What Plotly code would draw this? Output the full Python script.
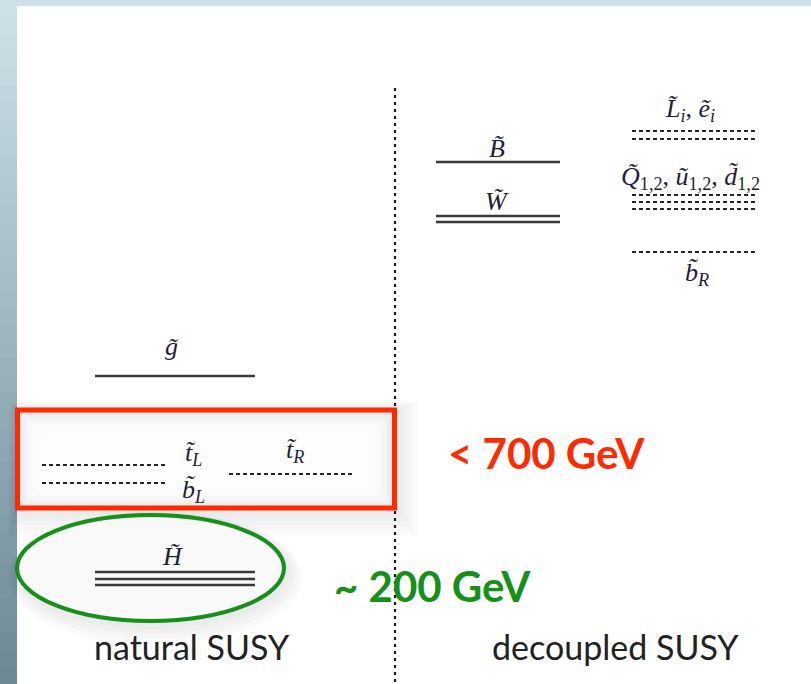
import plotly.graph_objects as go

# ---- diagram values (mass levels, in diagram units: larger = lower on page) ----
natural_labels = ["<i>g\u0303</i>",
                  "<i>t\u0303</i><sub><i>L</i></sub>",
                  "<i>b\u0303</i><sub><i>L</i></sub>",
                  "<i>t\u0303</i><sub><i>R</i></sub>",
                  "<i>H\u0303</i>"]
natural_levels = [[376], [465], [483], [474], [572, 579, 585]]
natural_dotted = [False, True, True, True, False]

decoupled_labels = ["<i>B\u0303</i>",
                    "<i>W\u0303</i>",
                    "<i>L\u0303</i><sub><i>i</i></sub>, <i>\u1ebd</i><sub><i>i</i></sub>",
                    "<i>Q\u0303</i><sub>1,2</sub>, <i>\u0169</i><sub>1,2</sub>, <i>d\u0303</i><sub>1,2</sub>",
                    "<i>b\u0303</i><sub><i>R</i></sub>"]
decoupled_levels = [[162], [216, 222], [131, 139], [195, 202, 209], [252]]
decoupled_dotted = [False, False, True, True, True]

column_titles = ["natural SUSY", "decoupled SUSY"]
mass_notes = ["&lt; 700 GeV", "~ 200 GeV"]

# ---- layout constants ----
W, H = 811, 684
spans = {  # x extent of each level line
    "natural": [(95, 255), (42, 168), (42, 168), (229, 355), (95, 255)],
    "decoupled": [(436, 560), (436, 560), (632, 758), (632, 758), (632, 758)],
}
label_pos = {  # (x, y) of each level label
    "natural": [(172, 346), (193, 454), (193, 491), (295, 451), (172, 556)],
    "decoupled": [(497, 148), (497, 201), (690, 110), (690, 178), (697, 274)],
}
LABEL_FONT = dict(family="Liberation Serif", size=26, color="#1d1d3c")
SANS = "Lato"

fig = go.Figure()
shapes = []

# slide frame: left and top strips with a vertical gradient
n_band = 40
for i in range(n_band):
    t = i / (n_band - 1)
    r = int(205 - t * (205 - 108))
    g = int(225 - t * (225 - 138))
    b = int(232 - t * (232 - 150))
    y0 = H * i / n_band
    shapes.append(dict(type="rect", xref="x", yref="y", x0=0, x1=17,
                       y0=y0, y1=y0 + H / n_band + 1, line_width=0,
                       fillcolor=f"rgb({r},{g},{b})", layer="below"))
shapes.append(dict(type="rect", xref="x", yref="y", x0=17, x1=W, y0=0, y1=6,
                   line_width=0, fillcolor="#cde1e9", layer="below"))

# soft shadow around the red box
for k in range(6):
    d = 3 + 5 * k
    shapes.append(dict(type="rect", xref="x", yref="y",
                       x0=17 - d * 0.3, x1=395 + d * 0.8, y0=410 - d * 0.3, y1=508 + d,
                       line_width=0, fillcolor="rgba(0,0,0,0.014)", layer="below"))
# shadow around the green ellipse
for k in range(5):
    d = 3 + 5 * k
    shapes.append(dict(type="circle", xref="x", yref="y",
                       x0=17 - d * 0.4, x1=284 + d * 0.8, y0=515 - d * 0.2, y1=621 + d,
                       line_width=0, fillcolor="rgba(0,0,0,0.018)", layer="below"))
shapes.append(dict(type="circle", xref="x", yref="y", x0=19, x1=282, y0=517, y1=619,
                   line_width=0, fillcolor="rgba(255,255,255,0.8)", layer="below"))

# box interior: grey vignette fading to white in the middle
shapes.append(dict(type="rect", xref="x", yref="y", x0=17, x1=395, y0=410, y1=508,
                   line_width=0, fillcolor="#e2e2e2", layer="below"))
for k in range(1, 9):
    d = 3 * k
    shapes.append(dict(type="rect", xref="x", yref="y",
                       x0=17 + d, x1=395 - d, y0=410 + d, y1=508 - d * 0.8,
                       line_width=0, fillcolor="rgba(255,255,255,0.3)", layer="below"))

# red box and green ellipse outlines
shapes.append(dict(type="rect", xref="x", yref="y", x0=17.5, x1=394.5, y0=410, y1=508,
                   line=dict(color="#ff2a00", width=5), fillcolor="rgba(0,0,0,0)",
                   layer="above"))
shapes.append(dict(type="circle", xref="x", yref="y", x0=17, x1=284, y0=515, y1=621,
                   line=dict(color="#17901a", width=4), fillcolor="rgba(0,0,0,0)",
                   layer="above"))

# vertical separator (hidden behind the box)
fig.add_trace(go.Scatter(x=[395, 395, None, 395, 395], y=[88, 407, None, 511, H],
                         mode="lines", hoverinfo="skip",
                         line=dict(color="#1a1a1a", width=2.2, dash="3px,4px")))


def add_levels(levels, dotted, xspans):
    for lv, dot, (x0, x1) in zip(levels, dotted, xspans):
        xs, ys = [], []
        for y in lv:
            xs += [x0, x1, None]
            ys += [y, y, None]
        if dot:
            line = dict(color="#262626", width=2.2, dash="4px,3px")
        else:
            line = dict(color="#3a3a3a", width=2.5)
        fig.add_trace(go.Scatter(x=xs, y=ys, mode="lines", line=line,
                                 hoverinfo="skip"))


add_levels(natural_levels, natural_dotted, spans["natural"])
add_levels(decoupled_levels, decoupled_dotted, spans["decoupled"])

annotations = []
for lab, (x, y) in zip(natural_labels + decoupled_labels,
                       label_pos["natural"] + label_pos["decoupled"]):
    annotations.append(dict(x=x, y=y, xref="x", yref="y", text=lab, showarrow=False,
                            font=LABEL_FONT))

annotations.append(dict(x=192, y=646, xref="x", yref="y", text=column_titles[0],
                        showarrow=False, font=dict(family=SANS, size=34, color="#222222")))
annotations.append(dict(x=615, y=646, xref="x", yref="y", text=column_titles[1],
                        showarrow=False, font=dict(family=SANS, size=34, color="#222222")))
annotations.append(dict(x=546, y=453, xref="x", yref="y", text="<b>" + mass_notes[0] + "</b>",
                        showarrow=False, font=dict(family=SANS, size=42, color="#ff2a00")))
annotations.append(dict(x=432, y=586, xref="x", yref="y", text="<b>" + mass_notes[1] + "</b>",
                        showarrow=False, font=dict(family=SANS, size=42, color="#17901a")))

fig.update_layout(
    width=W, height=H,
    margin=dict(l=0, r=0, t=0, b=0),
    paper_bgcolor="white", plot_bgcolor="white",
    showlegend=False,
    xaxis=dict(range=[0, W], visible=False, fixedrange=True),
    yaxis=dict(range=[H, 0], visible=False, fixedrange=True),
    shapes=shapes,
    annotations=annotations,
)

fig.write_html("out.html", config={"displayModeBar": False},
               post_script="document.body.style.margin='0';document.body.style.overflow='hidden';")
